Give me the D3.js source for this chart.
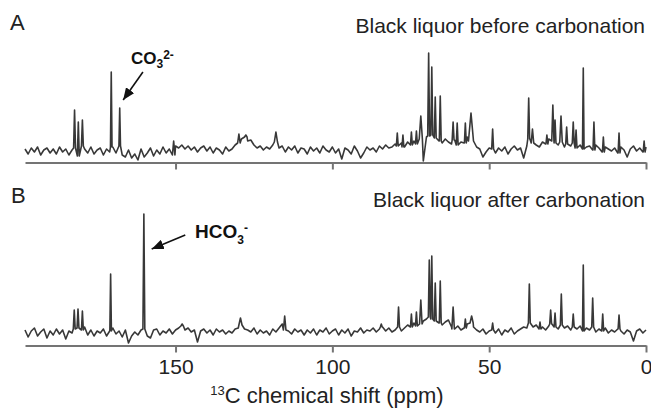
<!DOCTYPE html>
<html lang="en">
<head>
  <meta charset="UTF-8" />
  <script src="https://d3js.org/d3.v7.min.js"></script>
  <style>
    html, body { margin: 0; padding: 0; background: #fff; }
    svg { display: block; font-family: "Liberation Sans", Arial, Helvetica, sans-serif; }
  </style>
</head>
<body>
<svg id="chart" width="651" height="408"></svg>
<script>
// ppm range of the plot and tick values
var ppmMax = 198, ppmMin = 0;
var ppmTicks = [150, 100, 50, 0];

// baseline (noise), one value per ppm, from 198 down to 0
var noiseA = [
  2, -3, 3, -1, 4, -4, 1, 3, -2, 2,
  -3, 4, -1, 2, -4, 1, 3, -5, 5, 2,
  -2, 4, -3, 1, 3, -4, 2, -1, 4, -2,
  5, -4, -6, 1, -7, -3, -9, 2, -6, -2,
  3, -5, 1, -3, 4, -2, 2, -4, 5, 3,
  6, 2, 5, 1, 4, -1, 3, 5, 0, 4,
  -2, 3, 1, -3, 4, 0, 2, 6, 8, 12,
  14, 10, 11, 6, 3, 5, 1, 4, 2, 6,
  9, 3, 5, -1, 4, 1, 5, -2, 3, 2,
  -3, 4, 0, 3, -2, 5, 1, -1, 4, -2,
  2, -8, 3, 1, -3, 5, 0, -7, -2, 4,
  1, 3, -1, 5, 2, 6, 3, 4, 7, 5,
  8, 4, 9, 6, 10, 7, 12, -10, 14, 15,
  16, 13, 10, 8, 12, 9, 7, 11, 6, 9,
  8, 14, 10, 7, 4, 2, -6, -1, 3, 2,
  -2, 3, 0, 4, -3, 2, 5, 1, 3, -7,
  5, 12, 8, 6, 4, 9, 7, 12, 10, 8,
  6, 9, 4, 7, 5, 8, 3, 6, 2, 4,
  5, 1, 6, 3, -1, 4, 2, 0, 3, -2,
  4, 1, -6, 2, 5, 0, 3, -1, 4
];
var noiseB = [
  3, -4, 2, 5, -3, 1, 4, -5, 2, -2,
  4, -1, 3, -6, 2, 0, 4, 5, 3, 6,
  -2, 3, -3, 2, 0, 4, -3, 2, 5, -1,
  2, -4, 3, -10, -3, 1, -2, 3, 4, -3,
  -5, 3, 4, -2, 2, 0, 4, -1, 3, 5,
  7, 3, 5, 1, 3, -9, 2, 4, 0, 3,
  -2, 4, 1, 3, -1, 2, 0, 4, 5, 8,
  4, 3, 1, 5, -1, 3, 0, 2, -2, 4,
  1, 5, 9, 3, 2, -1, 4, 1, 3, -2,
  3, 0, 4, -2, 3, 1, 5, -1, 2, 4,
  -2, 3, 0, 4, -3, 2, 1, 5, 0, 3,
  2, 5, 1, 4, 6, 2, 5, 1, 3, 6,
  2, 5, 8, 6, 10, 7, 9, 12, 14, 16,
  14, 12, 10, 8, 11, 13, 6, 4, 7, 3,
  5, 9, 10, 6, 3, 1, 4, -1, 2, 3,
  0, 4, -2, 3, 1, 5, -1, 2, 4, 6,
  5, 10, 6, 8, 4, 6, 3, 7, 9, 6,
  4, 8, 5, 7, 3, 6, 4, 7, 2, 5,
  3, 6, 1, 4, 2, 5, 0, 3, 1, 4,
  2, -1, 3, 1, -8, 2, 4, 0, 3
];

// peaks: [ppm, height, half width in ppm]
var peaksA = [
  [182.2, 41, 0.3], [181.0, 29, 0.3], [179.7, 31, 0.3], [170.5, 79, 0.25], [167.8, 43, 0.25],
  [150.6, 10, 0.4], [129.8, 17, 0.4], [127.6, 16, 0.4], [118.0, 19, 0.5],
  [79.3, 18, 0.3], [77.5, 16, 0.3], [74.8, 19, 0.3], [73.2, 20, 0.3], [71.8, 35, 0.5],
  [69.3, 98, 0.3], [68.3, 84, 0.3], [67.2, 54, 0.3], [65.6, 55, 0.3], [61.5, 29, 0.3],
  [60.2, 28, 0.3], [57.6, 28, 0.3], [55.8, 38, 0.8], [48.9, 22, 0.3], [37.4, 53, 0.3],
  [36.2, 22, 0.4], [31.6, 16, 0.3], [29.7, 46, 0.35], [29.0, 31, 0.3], [27.1, 35, 0.4],
  [25.3, 24, 0.3], [23.2, 29, 0.3], [22.3, 21, 0.3], [20.0, 83, 0.25], [16.6, 29, 0.3],
  [13.6, 14, 0.3], [8.6, 18, 0.3], [0.6, 10, 0.3]
];
var peaksB = [
  [182.3, 23, 0.3], [181.1, 24, 0.3], [179.7, 22, 0.3], [170.7, 59, 0.25], [160.1, 119, 0.3],
  [147.9, 9, 0.4], [129.3, 15, 0.5], [115.2, 17, 0.4], [84.4, 9, 0.3],
  [78.9, 26, 0.3], [74.8, 19, 0.3], [73.2, 21, 0.3], [71.8, 33, 0.4], [69.1, 73, 0.3],
  [68.3, 77, 0.3], [67.2, 50, 0.3], [65.6, 52, 0.3], [61.5, 26, 0.4], [57.6, 14, 0.3],
  [55.6, 17, 0.5], [48.9, 10, 0.3], [37.2, 49, 0.3], [33.8, 11, 0.3], [30.4, 23, 0.3],
  [29.0, 20, 0.3], [27.0, 39, 0.3], [23.2, 19, 0.3], [20.0, 68, 0.25], [17.0, 35, 0.3],
  [13.8, 19, 0.3], [8.6, 18, 0.3]
];

var svg = d3.select("#chart");
var font = "'Liberation Sans', Arial, Helvetica, sans-serif";

var x = d3.scaleLinear().domain([ppmMax, ppmMin]).range([25, 646]);

// builds the trace from baseline points and peak points
function trace(noise, peaks) {
  var pts = noise.map(function (v, i) { return { ppm: ppmMax - i, v: v }; });
  pts = pts.filter(function (p) {
    return !peaks.some(function (k) { return Math.abs(p.ppm - k[0]) < k[2] + 0.05; });
  });
  peaks.forEach(function (k) {
    var b = noise[Math.round(ppmMax - k[0])];
    pts.push({ ppm: k[0] + k[2], v: b }, { ppm: k[0], v: k[1] }, { ppm: k[0] - k[2], v: b });
  });
  pts.sort(function (a, b) { return b.ppm - a.ppm; });
  return pts;
}

function panel(noise, peaks, base, axisY, showLabels) {
  var y = d3.scaleLinear().domain([0, 100]).range([base, base - 100]);

  var axis = d3.axisBottom(x).tickValues(ppmTicks).tickSize(7).tickSizeOuter(0).tickPadding(7);
  if (!showLabels) axis.tickFormat("");
  var g = svg.append("g").attr("transform", "translate(0," + axisY + ")").call(axis);
  g.select(".domain").attr("stroke", "#747474").attr("stroke-width", 2.2);
  g.selectAll(".tick line").attr("stroke", "#747474").attr("stroke-width", 2);
  g.selectAll(".tick text")
    .attr("fill", "#222").style("font-size", "21px").style("font-family", font);

  svg.append("path")
    .datum(trace(noise, peaks))
    .attr("fill", "none")
    .attr("stroke", "#383838")
    .attr("stroke-width", 1.6)
    .attr("stroke-linejoin", "round")
    .attr("d", d3.line().x(function (d) { return x(d.ppm); }).y(function (d) { return y(d.v); }));
  return y;
}

var yA = panel(noiseA, peaksA, 151, 162.5, false);
var yB = panel(noiseB, peaksB, 333, 345.5, true);

// arrow head
svg.append("defs").append("marker")
  .attr("id", "head")
  .attr("markerUnits", "userSpaceOnUse")
  .attr("viewBox", "0 0 12 10")
  .attr("refX", 12).attr("refY", 5)
  .attr("markerWidth", 12).attr("markerHeight", 10)
  .attr("orient", "auto")
  .append("path").attr("d", "M0,0L12,5L0,10Z").attr("fill", "#111");

function arrow(y, fromPpm, fromV, toPpm, toV) {
  svg.append("line")
    .attr("x1", x(fromPpm)).attr("y1", y(fromV))
    .attr("x2", x(toPpm)).attr("y2", y(toV))
    .attr("stroke", "#111").attr("stroke-width", 1.6)
    .attr("marker-end", "url(#head)");
}
arrow(yA, 160.4, 79, 166.7, 51);
arrow(yB, 146.9, 98, 157.6, 84);

// texts
function txt(xp, yp, size, str, anchor, weight) {
  return svg.append("text")
    .attr("x", xp).attr("y", yp)
    .attr("text-anchor", anchor || "start")
    .attr("fill", "#222")
    .style("font-size", size + "px")
    .style("font-weight", weight || "normal")
    .text(str);
}
txt(10, 30, 22, "A");
txt(11, 203, 22, "B");
txt(645, 33, 21, "Black liquor before carbonation", "end");
txt(645, 207, 21, "Black liquor after carbonation", "end");

var co = txt(131, 64, 17, "CO", "start", "bold").attr("fill", "#111");
co.append("tspan").attr("dy", 4).style("font-size", "12px").text("3");
co.append("tspan").attr("dy", -9).style("font-size", "12px").text("2-");

var hco = txt(195, 238, 19, "HCO", "start", "bold").attr("fill", "#111");
hco.append("tspan").attr("dy", 6).style("font-size", "12px").text("3");
hco.append("tspan").attr("dy", -12).style("font-size", "12px").text("-");

var title = svg.append("text")
  .attr("x", 327).attr("y", 403)
  .attr("text-anchor", "middle")
  .attr("fill", "#222")
  .style("font-size", "22px");
title.append("tspan").attr("dy", -8).style("font-size", "13px").text("13");
title.append("tspan").attr("dy", 8).text("C chemical shift (ppm)");
</script>
</body>
</html>
